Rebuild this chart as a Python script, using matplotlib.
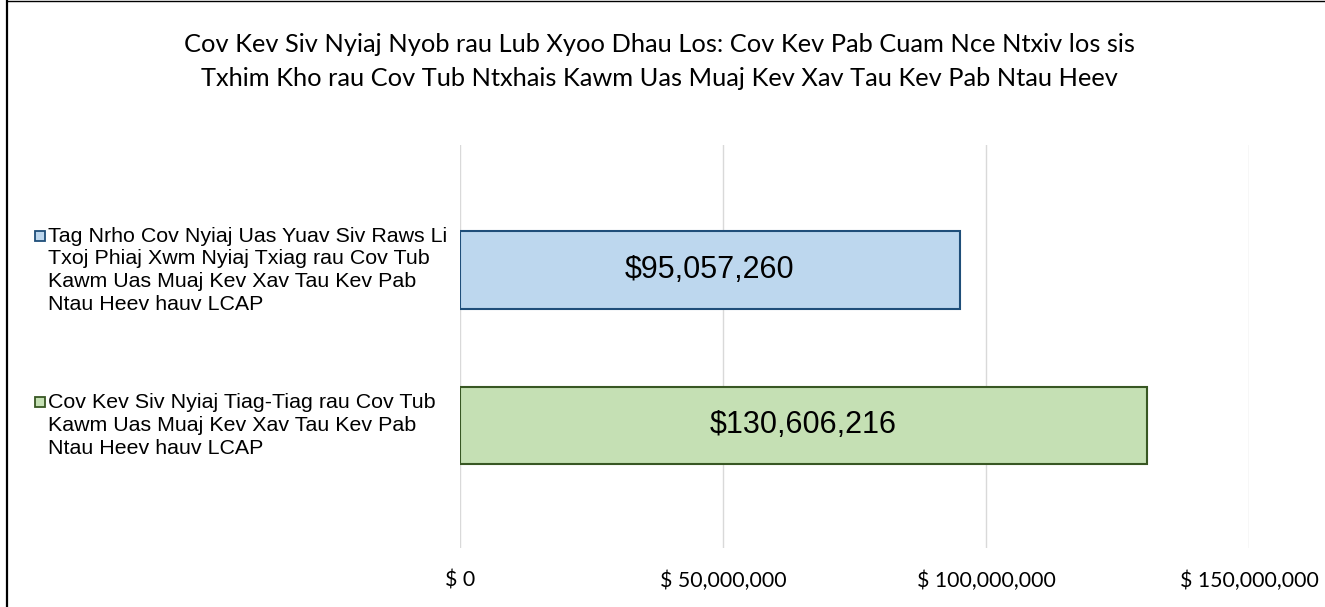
import matplotlib
matplotlib.use("Agg")
import matplotlib.pyplot as plt
import matplotlib.transforms as mtransforms
from matplotlib.lines import Line2D
from matplotlib.ticker import FuncFormatter

# ---- data ----
title_lines = [
    "Cov Kev Siv Nyiaj Nyob rau Lub Xyoo Dhau Los: Cov Kev Pab Cuam Nce Ntxiv los sis",
    "Txhim Kho rau Cov Tub Ntxhais Kawm Uas Muaj Kev Xav Tau Kev Pab Ntau Heev",
]
categories = [
    "Tag Nrho Cov Nyiaj Uas Yuav Siv Raws Li\nTxoj Phiaj Xwm Nyiaj Txiag rau Cov Tub\nKawm Uas Muaj Kev Xav Tau Kev Pab\nNtau Heev hauv LCAP",
    "Cov Kev Siv Nyiaj Tiag-Tiag rau Cov Tub\nKawm Uas Muaj Kev Xav Tau Kev Pab\nNtau Heev hauv LCAP",
]
values = [95057260, 130606216]
fill_colors = ["#BDD7EE", "#C5E0B4"]
edge_colors = ["#1F4E79", "#385723"]
x_ticks = [0, 50_000_000, 100_000_000, 150_000_000]

W, H = 1325, 607
fig = plt.figure(figsize=(W / 100, H / 100), dpi=100)
ax = fig.add_axes([460 / W, 1 - 548 / H, (1249 - 460) / W, (548 - 145) / H])

pos = list(range(len(values)))
ax.barh(pos, values, height=0.5, color=fill_colors, edgecolor=edge_colors,
        linewidth=1.5, zorder=3)
for p, v in zip(pos, values):
    ax.text(v / 2, p, f"${v:,.0f}", ha="center", va="center",
            fontsize=22, family="Liberation Sans", color="#000000", zorder=4)

ax.set_xlim(0, 150_000_000)
ax.set_ylim(1.79, -0.806)
ax.set_xticks(x_ticks)
ax.xaxis.set_major_formatter(FuncFormatter(lambda x, _: f"$ {x:,.0f}"))
ax.tick_params(axis="x", length=0, pad=16, labelsize=15.3, labelcolor="#000000")
for lab in ax.get_xticklabels():
    lab.set_family("Lato")
ax.set_yticks([])
ax.grid(axis="x", color="#D9D9D9", linewidth=1.0, zorder=0)
for s in ax.spines.values():
    s.set_visible(False)

# category labels with legend-like squares
blend = mtransforms.blended_transform_factory(fig.transFigure, ax.transData)
line_h_pt = 16.56
for p, lab, fc, ec in zip(pos, categories, fill_colors, edge_colors):
    ax.text(48 / W, p, lab, transform=blend, ha="left", va="center",
            fontsize=15.4, family="Liberation Sans", linespacing=1.245,
            color="#000000")
    n = lab.count("\n") + 1
    off = mtransforms.offset_copy(blend, fig=fig, x=0, y=(n - 1) / 2 * line_h_pt,
                                  units="points")
    ax.add_line(Line2D([40 / W], [p], transform=off, marker="s", markersize=7.5,
                       markerfacecolor=fc, markeredgecolor=ec, markeredgewidth=1.3,
                       linestyle="none", clip_on=False))

fig.text(0.498, 1 - 61.5 / H, "\n".join(title_lines), ha="center", va="center",
         fontsize=18.3, family="Lato", linespacing=1.56, color="#000000")

# frame lines
fig.add_artist(Line2D([7 / W, 7 / W], [0, 1], transform=fig.transFigure,
                      color="#000000", linewidth=1.6))
fig.add_artist(Line2D([7 / W, 1], [1 - 1 / H, 1 - 1 / H], transform=fig.transFigure,
                      color="#000000", linewidth=1.0))

fig.savefig("out.png", dpi=100)
